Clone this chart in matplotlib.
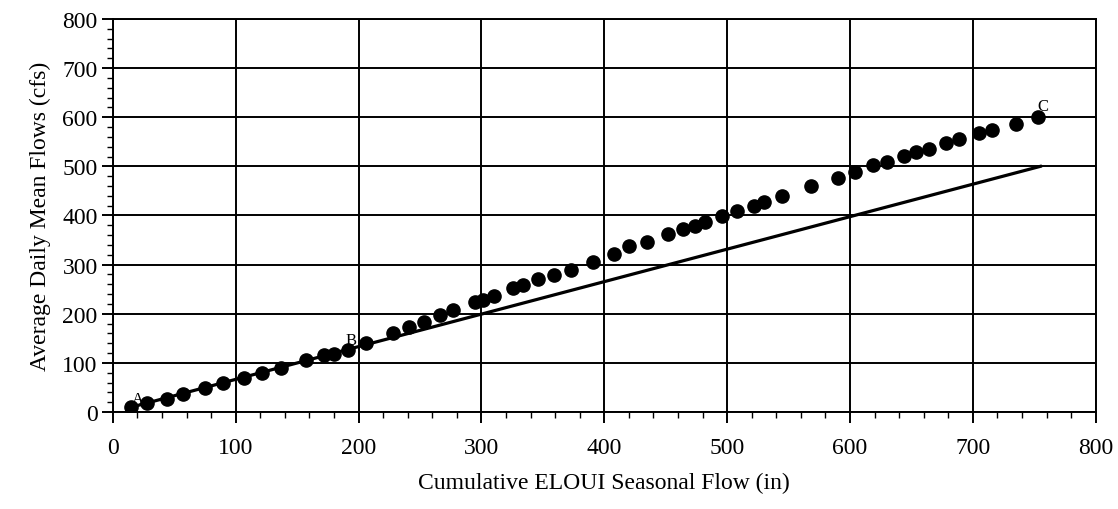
import numpy as np
import matplotlib.pyplot as plt
from matplotlib.ticker import MultipleLocator

# Datos
flow_x = [15, 28, 44, 57, 75, 90, 107, 121, 137, 157, 172, 180, 191, 206,
          228, 241, 253, 266, 277, 295, 301, 310, 326, 334, 346, 359, 373,
          391, 408, 420, 435, 452, 464, 474, 482, 496, 508, 522, 530, 545,
          568, 590, 604, 619, 630, 644, 654, 664, 678, 689, 705, 716, 735, 753]
flow_y = [11, 18, 27, 37, 49, 60, 70, 79, 90, 106, 116, 118, 126, 141,
          161, 174, 184, 198, 207, 224, 229, 236, 253, 259, 270, 278, 290,
          305, 321, 337, 347, 362, 372, 379, 386, 399, 409, 420, 428, 440,
          459, 477, 489, 502, 509, 522, 530, 536, 548, 555, 567, 573, 587, 601]

# Recta de referencia A-B-C
line_x = [15, 192, 755]
line_y = [10, 128, 500]

point_labels = ["A", "B", "C"]
label_x = [20, 194, 757]
label_y = [27, 147, 622]

plt.rcParams['font.family'] = ['Liberation Serif', 'DejaVu Serif']

fig = plt.figure(figsize=(11.18, 5.10), dpi=100)
ax = fig.add_axes([0.101, 0.190, 0.879, 0.771])

ax.plot(line_x, line_y, color='black', linewidth=2.3, zorder=3)
ax.plot(flow_x, flow_y, linestyle='none', marker='o', markersize=9.5,
        color='black', zorder=4)

for t, x, y in zip(point_labels, label_x, label_y):
    ax.text(x, y, t, fontsize=12, ha='center', va='center', zorder=5)

ax.set_xlim(0, 800)
ax.set_ylim(0, 800)
ax.xaxis.set_major_locator(MultipleLocator(100))
ax.yaxis.set_major_locator(MultipleLocator(100))
ax.xaxis.set_minor_locator(MultipleLocator(20))
ax.yaxis.set_minor_locator(MultipleLocator(20))

ax.grid(True, which='major', color='black', linewidth=1.4)
ax.set_axisbelow(True)
for s in ax.spines.values():
    s.set_linewidth(1.4)

ax.tick_params(axis='both', which='major', length=8, width=1.4,
               labelsize=17, direction='out')
ax.tick_params(axis='x', which='major', pad=10)
ax.tick_params(axis='y', which='major', pad=3)
ax.tick_params(axis='both', which='minor', length=4, width=1.0,
               direction='out')

ax.set_xlabel("Cumulative ELOUI Seasonal Flow (in)", fontsize=17, labelpad=10)
ax.set_ylabel("Average Daily Mean Flows (cfs)", fontsize=17, labelpad=8)

plt.savefig("out.png", dpi=100)
